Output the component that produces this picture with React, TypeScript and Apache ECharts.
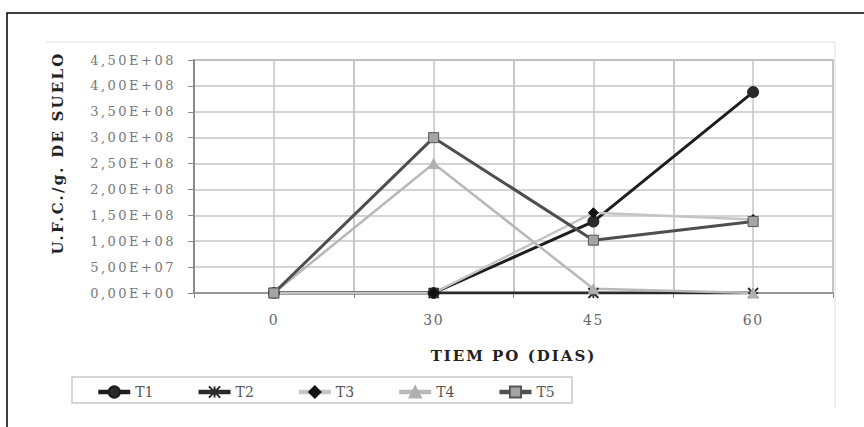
import React, { useEffect, useRef } from "react";
import * as echarts from "echarts";

const categories = ["0", "30", "45", "60"];
const seriesNames = ["T1", "T2", "T3", "T4", "T5"];
const t1 = [0, 0, 1.38e8, 3.88e8];
const t2 = [0, 0, 0, 0];
const t3 = [0, 0, 1.55e8, 1.42e8];
const t4 = [0, 2.5e8, 8e6, 0];
const t5 = [0, 3.0e8, 1.02e8, 1.38e8];
const yTickLabels = [
  "0,00E+00",
  "5,00E+07",
  "1,00E+08",
  "1,50E+08",
  "2,00E+08",
  "2,50E+08",
  "3,00E+08",
  "3,50E+08",
  "4,00E+08",
  "4,50E+08",
];
const yTitle = "U.F.C./g. DE SUELO";
const xTitle = "TIEM PO (DIAS)";

const SERIF = '"DejaVu Serif", "Liberation Serif", serif';
const ASTERISK = "path://M0,0L10,10M10,0L0,10M5,0L5,10M0,5L10,5";

export default function App() {
  const ref = useRef<HTMLDivElement>(null);
  useEffect(() => {
    if (!ref.current) return;
    const chart = echarts.init(ref.current, undefined, { renderer: "svg" });
    const seriesData = [t1, t2, t3, t4, t5];
    const styles = [
      { line: "#1e1e1e", width: 3, symbol: "circle", size: 11, color: "#2a2a2a", border: "#1e1e1e" },
      { line: "#2a2a2a", width: 3, symbol: ASTERISK, size: 10, color: "#2a2a2a", border: "#2a2a2a" },
      { line: "#c4c4c4", width: 2.5, symbol: "diamond", size: 10, color: "#111", border: "#111" },
      { line: "#b8b8b8", width: 2.5, symbol: "triangle", size: 10, color: "#b0b0b0", border: "#b0b0b0" },
      { line: "#4e4e4e", width: 3, symbol: "rect", size: 10, color: "#a4a4a4", border: "#555" },
    ];
    chart.setOption({
      animation: false,
      backgroundColor: "#fff",
      textStyle: { fontFamily: SERIF },
      grid: {
        left: 194,
        right: 31,
        top: 60,
        bottom: 134,
        show: true,
        borderColor: "#9a9a9a",
        borderWidth: 1.5,
      },
      xAxis: [
        {
          type: "category",
          data: categories,
          boundaryGap: true,
          axisLine: { lineStyle: { color: "#8a8a8a", width: 1.5 } },
          axisTick: { show: true, length: 5, lineStyle: { color: "#8a8a8a" } },
          axisLabel: { color: "#666", fontSize: 14, fontFamily: SERIF, margin: 20 },
          splitLine: { show: true, interval: 0, lineStyle: { color: "#c6c6c6", width: 1.5 } },
          name: xTitle,
          nameLocation: "middle",
          nameGap: 55,
          nameTextStyle: { color: "#222", fontSize: 15, fontWeight: "bold", fontFamily: SERIF },
        },
        {
          type: "value",
          min: 0,
          max: 8,
          interval: 1,
          position: "bottom",
          axisLine: { show: false },
          axisTick: { show: false },
          axisLabel: { show: false },
          splitLine: { show: true, lineStyle: { color: "#c6c6c6", width: 1.5 } },
        },
      ],
      yAxis: {
        type: "value",
        min: 0,
        max: 4.5e8,
        interval: 5e7,
        axisLine: { show: true, lineStyle: { color: "#777", width: 1.5 } },
        axisTick: { show: true, length: 6, lineStyle: { color: "#888" } },
        axisLabel: {
          color: "#777",
          fontSize: 13,
          fontFamily: SERIF,
          margin: 18,
          formatter: (v: number) => yTickLabels[Math.round(v / 5e7)],
        },
        splitLine: { show: true, lineStyle: { color: "#c6c6c6", width: 1.5 } },
      },
      legend: seriesNames.map((n, i) => ({
        data: [n],
        left: 96 + i * 100.3,
        top: 385,
        padding: 0,
        itemWidth: 32,
        itemHeight: 14,
        itemGap: 4,
        lineStyle: { width: 4.5 },
        textStyle: { color: "#555", fontSize: 14, fontFamily: SERIF },
      })),
      series: seriesNames.map((n, i) => ({
        name: n,
        type: "line",
        xAxisIndex: 0,
        data: seriesData[i],
        symbol: styles[i].symbol,
        symbolSize: styles[i].size,
        showAllSymbol: true,
        lineStyle: { color: styles[i].line, width: styles[i].width },
        itemStyle: {
          color: styles[i].color,
          borderColor: styles[i].border,
          borderWidth: i === 1 ? 1.8 : 1,
        },
      })),
      graphic: [
        {
          type: "rect",
          silent: true,
          shape: { x: 7, y: 13, width: 900, height: 500 },
          style: { fill: "none", stroke: "#000", lineWidth: 1.5 },
        },
        {
          type: "polyline",
          silent: true,
          shape: { points: [[46, 42], [835, 42], [835, 408]] },
          style: { fill: "none", stroke: "#e2e2e2", lineWidth: 1 },
        },
        {
          type: "rect",
          silent: true,
          shape: { x: 72, y: 377, width: 500, height: 26 },
          style: { fill: "none", stroke: "#c8c8c8", lineWidth: 1.5 },
        },
        {
          type: "text",
          silent: true,
          x: 58,
          y: 153,
          rotation: Math.PI / 2,
          style: {
            text: yTitle,
            align: "center",
            verticalAlign: "middle",
            fill: "#222",
            font: 'bold 15px "DejaVu Serif", serif',
          },
        },
      ],
    });

    const applySpacing = () => {
      const el = ref.current;
      if (!el) return;
      el.querySelectorAll("text").forEach((t) => {
        const s = t.textContent || "";
        if (yTickLabels.includes(s)) t.style.letterSpacing = "2.5px";
        else if (s === yTitle) t.style.letterSpacing = "2.2px";
        else if (s === xTitle) t.style.letterSpacing = "2px";
        else if (categories.includes(s)) t.style.letterSpacing = "1.5px";
      });
    };
    applySpacing();
    chart.on("finished", applySpacing);
    const timer = window.setTimeout(applySpacing, 50);
    return () => {
      window.clearTimeout(timer);
      chart.dispose();
    };
  }, []);
  return (
    <div
      ref={ref}
      style={{ position: "fixed", left: 0, top: 0, width: 864, height: 427 }}
    />
  );
}
